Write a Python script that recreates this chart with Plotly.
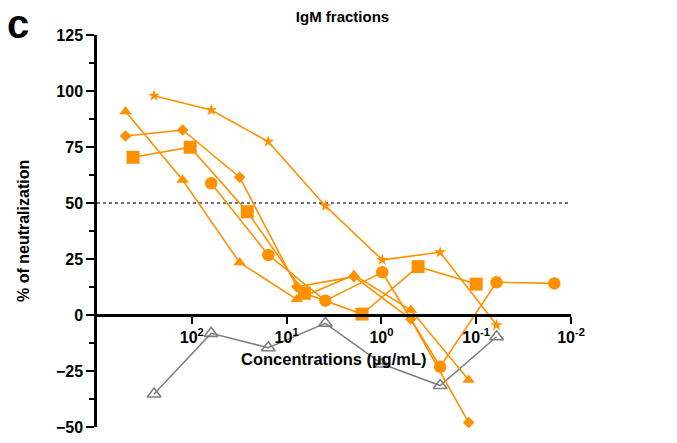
import plotly.graph_objects as go

# concentrations (µg/mL)
conc_star = [250, 62.5, 15.6, 3.9, 0.98, 0.24, 0.061]
conc_diamond = [500, 125, 31.3, 7.8, 1.95, 0.49, 0.12]
conc_square = [417, 104, 26, 6.5, 1.6, 0.41, 0.10]
conc_circle = [62.5, 15.6, 3.9, 0.98, 0.24, 0.061, 0.015]
conc_triangle = [500, 125, 31.3, 7.8, 1.95, 0.49, 0.12]
conc_gray = [250, 62.5, 15.6, 3.9, 0.98, 0.24, 0.061]

# % of neutralization
star = [97.9, 91.5, 77.4, 48.7, 24.6, 28.0, -4.5]
diamond = [79.9, 82.6, 61.5, 12.6, 17.1, -1.8, -48.0]
square = [70.4, 74.9, 46.1, 9.7, 0.4, 21.6, 13.8]
circle = [58.8, 26.8, 6.4, 19.1, -23.1, 14.6, 14.1]
triangle = [90.8, 60.3, 23.4, 7.0, 17.9, 2.2, -29.0]
gray = [-35.3, -8.2, -14.6, -3.7, -21.9, -31.5, -9.7]

x_tickvals = [100, 10, 1, 0.1, 0.01]
x_ticktext = ["10<sup>2</sup>", "10<sup>1</sup>", "10<sup>0</sup>", "10<sup>-1</sup>", "10<sup>-2</sup>"]
y_tickvals = [-50, -25, 0, 25, 50, 75, 100, 125]

ORANGE = "#FF9100"
GRAY = "#7F7F7F"
FONT = "Liberation Sans"

# page body has an 8px default margin; figure sized so plot area lands at x 97..571, y 35..427
W, H = 669, 435
L, R, T, B = 89, 106, 27, 16
PW, PH = W - L - R, H - T - B

fig = go.Figure()

fig.add_trace(go.Scatter(x=conc_gray, y=gray, mode="lines+markers",
    line=dict(color=GRAY, width=1.5),
    marker=dict(symbol="triangle-up-open", size=12, color=GRAY, line=dict(width=1.6, color=GRAY)),
    cliponaxis=False, showlegend=False))

series = [
    (conc_star, star, "star", 9),
    (conc_diamond, diamond, "diamond", 9),
    (conc_square, square, "square", 13),
    (conc_circle, circle, "circle", 12.5),
    (conc_triangle, triangle, "triangle-up", 11),
]
for xs, ys, sym, sz in series:
    fig.add_trace(go.Scatter(x=xs, y=ys, mode="lines+markers",
        line=dict(color=ORANGE, width=1.6),
        marker=dict(symbol=sym, size=sz, color=ORANGE, line=dict(width=0)),
        cliponaxis=False, showlegend=False))

fig.update_layout(
    width=W, height=H,
    margin=dict(l=L, r=R, t=T, b=B, autoexpand=False),
    paper_bgcolor="white", plot_bgcolor="white",
    font=dict(family=FONT, color="black"),
    title=dict(text="IgM fractions", x=0.5, xref="container", y=1 - 8.5 / H, yanchor="middle",
               font=dict(size=15, weight="bold", family=FONT)),
    xaxis=dict(type="log", range=[3, -2], anchor="free", position=50/175, automargin=False,
               showline=True, linewidth=2.5, linecolor="black",
               ticks="outside", ticklen=7, tickwidth=2, tickcolor="black",
               tickvals=x_tickvals, ticktext=x_ticktext,
               tickfont=dict(size=16, weight="bold", family=FONT),
               showgrid=False, zeroline=False),
    yaxis=dict(range=[-50, 125], automargin=False, showline=True, linewidth=2.5, linecolor="black",
               ticks="outside", ticklen=8, tickwidth=2, tickcolor="black",
               tickvals=y_tickvals, tickfont=dict(size=16, weight="bold", family=FONT),
               minor=dict(ticks="outside", ticklen=5, tickwidth=2, tickcolor="black", dtick=12.5),
               showgrid=False, zeroline=False),
    shapes=[dict(type="line", xref="paper", x0=0, x1=1, yref="y", y0=50, y1=50,
                 line=dict(color="#444444", width=1.3, dash="dot"), layer="below")],
    annotations=[
        dict(text="Concentrations (µg/mL)", xref="paper", x=0.5, yref="y", y=0,
             yanchor="top", yshift=-33, showarrow=False,
             font=dict(size=16.5, weight="bold", family=FONT)),
        dict(text="% of neutralization", xref="paper", x=(23 - 97) / PW, yref="paper", y=0.5,
             textangle=-90, showarrow=False, xanchor="center", yanchor="middle",
             font=dict(size=16, weight="bold", family=FONT)),
        dict(text="c", xref="paper", x=(18 - 97) / PW, yref="paper", y=1 + (35 - 24) / PH,
             showarrow=False, xanchor="center", yanchor="middle", height=30, valign="middle",
             font=dict(size=40, weight="bold", family=FONT)),
    ],
)

fig.write_html("out.html")
